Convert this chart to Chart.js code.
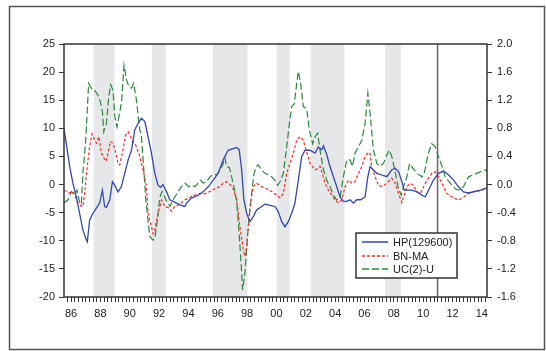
<!DOCTYPE html>
<html>
<head>
<meta charset="utf-8">
<script src="https://cdn.jsdelivr.net/npm/chart.js@4.4.1/dist/chart.umd.min.js"></script>
<style>
  html, body { margin: 0; padding: 0; background: #fff; }
  canvas { display: block; }
</style>
</head>
<body>
<canvas id="cycles" width="546" height="351"></canvas>
<script>
// HP(129600) cycle, left axis
var hpYears = [1985.52, 1985.91, 1986.13, 1986.36, 1986.81, 1987.05, 1987.11, 1987.27, 1987.50, 1987.73, 1987.95,
  1988.14, 1988.29, 1988.41, 1988.64, 1988.82, 1988.91, 1989.20, 1989.43, 1989.66, 1989.89, 1990.12, 1990.34,
  1990.57, 1990.80, 1991.03, 1991.25, 1991.48, 1991.71, 1991.93, 1992.10, 1992.27, 1992.51, 1992.73, 1992.96,
  1993.19, 1993.41, 1993.76, 1993.87, 1994.21, 1994.66, 1995.00, 1995.35, 1995.69, 1996.03, 1996.37, 1996.71,
  1997.05, 1997.28, 1997.46, 1997.63, 1997.78, 1997.97, 1998.19, 1998.42, 1998.65, 1998.99, 1999.22, 1999.56,
  1999.90, 2000.12, 2000.36, 2000.58, 2000.81, 2001.04, 2001.26, 2001.49, 2001.72, 2001.95, 2002.29, 2002.63,
  2002.85, 2003.09, 2003.20, 2003.43, 2003.65, 2003.88, 2004.11, 2004.34, 2004.56, 2004.79, 2005.02, 2005.24,
  2005.48, 2005.74, 2005.93, 2006.04, 2006.23, 2006.38, 2006.61, 2006.84, 2007.18, 2007.52, 2007.86, 2008.09,
  2008.32, 2008.55, 2008.70, 2009.23, 2009.57, 2009.92, 2010.14, 2010.36, 2010.70, 2011.04, 2011.39, 2011.73,
  2012.07, 2012.41, 2012.75, 2013.09, 2013.89, 2014.35];
var hpValues = [10.0, 3.2, 0.2, -2.2, -8.1, -9.9, -10.2, -6.3, -5.1, -4.2, -3.3,
  -1.0, -3.9, -4.1, -2.7, 0.5, 0.2, -1.3, -0.4, 2.0, 4.4, 6.1, 9.7,
  10.9, 11.8, 11.2, 8.5, 5.6, 2.0, -0.1, -0.5, 0.0, -1.3, -2.7, -3.0,
  -3.3, -3.6, -3.9, -3.3, -2.4, -1.9, -1.3, -0.4, 0.8, 2.0, 4.4, 6.1,
  6.4, 6.6, 6.2, 2.6, -2.7, -5.1, -6.6, -5.7, -4.5, -3.9, -3.5, -3.7,
  -3.9, -4.8, -6.6, -7.5, -6.6, -5.1, -3.3, 0.8, 5.0, 6.1, 6.1, 5.6,
  6.7, 6.2, 6.9, 5.3, 3.2, 1.4, -0.4, -2.2, -3.0, -3.0, -2.7, -3.3,
  -2.7, -2.7, -2.4, -2.2, 1.4, 3.2, 2.6, 2.0, 1.7, 1.4, 2.6, 2.9,
  2.3, 0.5, -1.0, -1.0, -1.3, -1.9, -2.2, -1.0, 0.8, 2.0, 2.4, 1.7,
  0.8, -0.4, -1.3, -1.5, -1.0, -0.6];

// BN-MA cycle, right axis
var bnYears = [1985.52, 1985.90, 1986.13, 1986.25, 1986.47, 1986.70, 1986.81, 1986.93, 1987.05, 1987.27, 1987.43,
  1987.61, 1987.73, 1987.89, 1988.07, 1988.23, 1988.41, 1988.52, 1988.68, 1988.86, 1989.05, 1989.20, 1989.32,
  1989.54, 1989.71, 1989.89, 1990.05, 1990.23, 1990.46, 1990.68, 1990.91, 1991.14, 1991.25, 1991.48, 1991.59,
  1991.71, 1991.93, 1992.17, 1992.39, 1992.62, 1992.85, 1993.07, 1993.30, 1993.53, 1993.76, 1994.10, 1994.44,
  1994.78, 1995.12, 1995.46, 1995.80, 1996.14, 1996.37, 1996.60, 1996.83, 1997.05, 1997.28, 1997.51, 1997.74,
  1997.85, 1997.97, 1998.19, 1998.42, 1998.65, 1998.99, 1999.33, 1999.67, 2000.01, 2000.24, 2000.47, 2000.70,
  2000.92, 2001.15, 2001.38, 2001.61, 2001.83, 2002.06, 2002.29, 2002.63, 2002.85, 2002.97, 2003.09, 2003.31,
  2003.54, 2003.77, 2003.99, 2004.22, 2004.45, 2004.68, 2004.90, 2005.13, 2005.36, 2005.59, 2005.82, 2006.04,
  2006.27, 2006.38, 2006.50, 2006.73, 2006.95, 2007.18, 2007.41, 2007.63, 2007.86, 2008.09, 2008.32, 2008.55,
  2008.66, 2008.89, 2009.11, 2009.34, 2009.57, 2009.80, 2010.03, 2010.25, 2010.59, 2010.82, 2011.04, 2011.28,
  2011.62, 2012.07, 2012.41, 2012.75, 2013.09, 2013.43, 2013.89, 2014.35];
var bnValues = [-0.08, -0.12, -0.10, -0.15, -0.26, -0.31, -0.31, -0.13, 0.16, 0.54, 0.72,
  0.63, 0.59, 0.68, 0.45, 0.38, 0.33, 0.45, 0.61, 0.59, 0.45, 0.30, 0.28,
  0.49, 0.70, 0.75, 0.68, 0.61, 0.54, 0.40, 0.21, -0.03, -0.41, -0.60, -0.70,
  -0.65, -0.41, -0.22, -0.31, -0.33, -0.38, -0.31, -0.29, -0.26, -0.22, -0.18, -0.15,
  -0.13, -0.13, -0.10, -0.06, -0.03, 0.02, 0.04, 0.00, -0.06, -0.22, -0.60, -0.93,
  -1.02, -0.88, -0.31, -0.03, 0.02, -0.03, -0.06, -0.10, -0.15, -0.19, -0.13, 0.16,
  0.30, 0.45, 0.63, 0.68, 0.63, 0.46, 0.30, 0.21, 0.23, 0.26, 0.18, 0.02,
  -0.08, -0.15, -0.22, -0.26, -0.22, -0.03, 0.06, 0.02, 0.04, 0.16, 0.26, 0.40,
  0.46, 0.44, 0.24, 0.11, -0.01, -0.03, 0.00, 0.04, 0.09, 0.02, -0.13, -0.26,
  -0.18, -0.03, 0.02, -0.02, -0.10, -0.13, -0.03, 0.06, 0.16, 0.18, 0.11, 0.02,
  -0.13, -0.19, -0.22, -0.18, -0.13, -0.10, -0.09, -0.05];

// UC(2)-U cycle, right axis
var ucYears = [1985.52, 1985.79, 1986.02, 1986.25, 1986.40, 1986.59, 1986.70, 1986.81, 1987.00, 1987.20, 1987.39,
  1987.61, 1987.84, 1988.00, 1988.14, 1988.23, 1988.41, 1988.57, 1988.70, 1988.86, 1988.98, 1989.13, 1989.32,
  1989.46, 1989.61, 1989.78, 1989.95, 1990.12, 1990.27, 1990.46, 1990.68, 1990.80, 1990.95, 1991.09, 1991.25,
  1991.37, 1991.59, 1991.71, 1991.89, 1992.05, 1992.21, 1992.39, 1992.57, 1992.73, 1992.89, 1993.07, 1993.30,
  1993.53, 1993.76, 1994.03, 1994.21, 1994.44, 1994.66, 1994.83, 1995.00, 1995.24, 1995.46, 1995.69, 1995.92,
  1996.08, 1996.30, 1996.49, 1996.60, 1996.80, 1997.05, 1997.28, 1997.46, 1997.63, 1997.69, 1997.85, 1998.08,
  1998.31, 1998.47, 1998.65, 1998.76, 1998.99, 1999.22, 1999.44, 1999.67, 1999.90, 2000.08, 2000.24, 2000.47,
  2000.70, 2000.88, 2001.04, 2001.22, 2001.38, 2001.49, 2001.65, 2001.83, 2002.06, 2002.24, 2002.47, 2002.63,
  2002.81, 2002.97, 2003.20, 2003.43, 2003.65, 2003.88, 2004.11, 2004.34, 2004.56, 2004.79, 2005.02, 2005.18,
  2005.36, 2005.59, 2005.82, 2006.04, 2006.23, 2006.38, 2006.61, 2006.84, 2007.07, 2007.29, 2007.52, 2007.68,
  2007.86, 2008.09, 2008.32, 2008.50, 2008.66, 2008.89, 2009.07, 2009.30, 2009.57, 2009.92, 2010.07, 2010.36,
  2010.59, 2010.82, 2011.04, 2011.28, 2011.50, 2011.84, 2012.19, 2012.41, 2012.75, 2013.09, 2013.43, 2013.89,
  2014.23, 2014.35];
var ucValues = [-0.26, -0.22, -0.10, -0.15, -0.08, -0.26, -0.28, 0.16, 0.63, 1.44, 1.37,
  1.34, 1.27, 1.18, 1.04, 0.75, 0.87, 1.25, 1.42, 1.34, 0.97, 0.82, 1.02,
  1.22, 1.70, 1.49, 1.39, 1.37, 1.44, 1.20, 0.78, 0.68, 0.24, -0.20, -0.52,
  -0.74, -0.79, -0.77, -0.50, -0.18, -0.10, -0.18, -0.26, -0.31, -0.24, -0.18, -0.10,
  -0.03, 0.02, -0.03, -0.01, -0.03, 0.02, 0.06, 0.02, 0.04, 0.11, 0.14, 0.14,
  0.18, 0.26, 0.38, 0.26, 0.24, 0.02, -0.22, -0.70, -1.26, -1.50, -1.26, -0.60,
  -0.13, 0.16, 0.26, 0.28, 0.21, 0.16, 0.14, 0.11, 0.06, -0.01, 0.04, 0.16,
  0.54, 0.87, 1.11, 1.15, 1.44, 1.61, 1.44, 1.11, 1.08, 0.78, 0.58, 0.68,
  0.73, 0.49, 0.21, 0.06, -0.03, -0.15, -0.22, -0.18, 0.11, 0.35, 0.35, 0.26,
  0.45, 0.54, 0.63, 0.87, 1.30, 1.02, 0.49, 0.30, 0.26, 0.30, 0.42, 0.49,
  0.40, 0.18, -0.06, -0.15, -0.03, 0.11, 0.30, 0.23, 0.16, 0.11, 0.16, 0.45,
  0.58, 0.54, 0.40, 0.26, 0.11, 0.02, -0.06, -0.08, -0.03, 0.11, 0.14, 0.18,
  0.21, 0.19];

// shaded periods and the vertical marker
var bandStarts = [1987.54, 1991.51, 1995.66, 2000.01, 2002.33, 2007.40];
var bandEnds = [1988.96, 1992.46, 1998.02, 2000.91, 2004.64, 2008.47];
var markerYear = 2010.98;

// axes
var xMin = 1985.52, xMax = 2014.35;
var labelYears = [1986, 1988, 1990, 1992, 1994, 1996, 1998, 2000, 2002, 2004, 2006, 2008, 2010, 2012, 2014];
var labelTexts = ['86', '88', '90', '92', '94', '96', '98', '00', '02', '04', '06', '08', '10', '12', '14'];
var leftTicks = [-20, -15, -10, -5, 0, 5, 10, 15, 20, 25];
var rightTicks = [-1.6, -1.2, -0.8, -0.4, 0.0, 0.4, 0.8, 1.2, 1.6, 2.0];

function toPoints(xs, ys) {
  return xs.map(function (x, i) { return { x: x, y: ys[i] }; });
}

var quarterTicks = [];
for (var q = 1985.75; q <= xMax; q += 0.25) quarterTicks.push(Math.round(q * 100) / 100);

var FONT = { family: "'Liberation Sans', Arial, sans-serif", size: 11 };
var INK = '#222';

var decor = {
  id: 'decor',
  beforeDraw: function (chart) {
    var ctx = chart.ctx;
    ctx.save();
    ctx.fillStyle = '#fff';
    ctx.fillRect(0, 0, chart.width, chart.height);
    ctx.strokeStyle = '#555';
    ctx.lineWidth = 1.5;
    ctx.strokeRect(9.5, 6.5, 535, 343);
    ctx.restore();
  },
  beforeDatasetsDraw: function (chart) {
    var ctx = chart.ctx, a = chart.chartArea, xs = chart.scales.x;
    ctx.save();
    ctx.fillStyle = '#e6e7e9';
    bandStarts.forEach(function (s, i) {
      var x0 = xs.getPixelForValue(s), x1 = xs.getPixelForValue(bandEnds[i]);
      ctx.fillRect(x0, a.top, x1 - x0, a.bottom - a.top);
    });
    var mx = xs.getPixelForValue(markerYear);
    ctx.strokeStyle = '#666';
    ctx.lineWidth = 1.5;
    ctx.beginPath();
    ctx.moveTo(mx, a.top);
    ctx.lineTo(mx, a.bottom);
    ctx.stroke();
    ctx.restore();
  },
  afterDatasetsDraw: function (chart) {
    var ctx = chart.ctx, a = chart.chartArea;
    ctx.save();
    ctx.strokeStyle = '#333';
    ctx.lineWidth = 1.5;
    ctx.strokeRect(a.left, a.top, a.right - a.left, a.bottom - a.top);

    // legend box
    var lx = 356, ly = 233, lw = 101, lh = 45;
    ctx.fillStyle = '#fff';
    ctx.fillRect(lx, ly, lw, lh);
    ctx.strokeStyle = '#333';
    ctx.lineWidth = 1.5;
    ctx.strokeRect(lx, ly, lw, lh);
    ctx.font = FONT.size + 'px ' + FONT.family;
    ctx.textBaseline = 'middle';
    chart.data.datasets.forEach(function (ds, i) {
      var y = Math.round(ly + 9 + i * 13.5);
      ctx.strokeStyle = ds.borderColor;
      ctx.lineWidth = 1.5;
      ctx.setLineDash(ds.borderDash || []);
      ctx.beginPath();
      ctx.moveTo(lx + 6, y);
      ctx.lineTo(lx + 32, y);
      ctx.stroke();
      ctx.setLineDash([]);
      ctx.fillStyle = INK;
      ctx.fillText(ds.label, lx + 37, y + 0.5);
    });
    ctx.restore();
  }
};

new Chart('cycles', {
  type: 'line',
  data: {
    datasets: [
      {
        label: 'HP(129600)',
        data: toPoints(hpYears, hpValues),
        yAxisID: 'yLeft',
        borderColor: '#3447a6',
        borderWidth: 1.3
      },
      {
        label: 'BN-MA',
        data: toPoints(bnYears, bnValues),
        yAxisID: 'yRight',
        borderColor: '#f23030',
        borderWidth: 1.2,
        borderDash: [3, 2]
      },
      {
        label: 'UC(2)-U',
        data: toPoints(ucYears, ucValues),
        yAxisID: 'yRight',
        borderColor: '#2f8540',
        borderWidth: 1.2,
        borderDash: [7, 3]
      }
    ]
  },
  options: {
    responsive: false,
    animation: false,
    devicePixelRatio: 1,
    layout: { padding: { top: 44, left: 0, right: 0, bottom: 0 } },
    elements: { point: { radius: 0 }, line: { tension: 0 } },
    plugins: { legend: { display: false }, tooltip: { enabled: false } },
    scales: {
      x: {
        type: 'linear',
        min: xMin,
        max: xMax,
        afterBuildTicks: function (scale) {
          scale.ticks = quarterTicks.map(function (v) { return { value: v }; });
        },
        afterFit: function (scale) { scale.height = 54; },
        ticks: {
          autoSkip: false,
          maxRotation: 0,
          padding: 5,
          color: INK,
          font: FONT,
          callback: function (value) {
            for (var i = 0; i < labelYears.length; i++) {
              if (Math.abs(value - labelYears[i]) < 0.01) return labelTexts[i];
            }
            return '';
          }
        },
        grid: { drawOnChartArea: false, tickLength: 5, color: '#333' },
        border: { display: false }
      },
      yLeft: {
        position: 'left',
        min: -20,
        max: 25,
        afterBuildTicks: function (scale) {
          scale.ticks = leftTicks.map(function (v) { return { value: v }; });
        },
        afterFit: function (scale) { scale.width = 64; },
        ticks: { padding: 4, color: INK, font: FONT },
        grid: { drawOnChartArea: false, tickLength: 5, color: '#333' },
        border: { display: false }
      },
      yRight: {
        position: 'right',
        min: -1.6,
        max: 2.0,
        afterBuildTicks: function (scale) {
          scale.ticks = rightTicks.map(function (v) { return { value: v }; });
        },
        afterFit: function (scale) { scale.width = 59; },
        ticks: {
          padding: 5,
          color: INK,
          font: FONT,
          callback: function (value) { return Number(value).toFixed(1); }
        },
        grid: { drawOnChartArea: false, tickLength: 5, color: '#333' },
        border: { display: false }
      }
    }
  },
  plugins: [decor]
});
</script>
</body>
</html>
